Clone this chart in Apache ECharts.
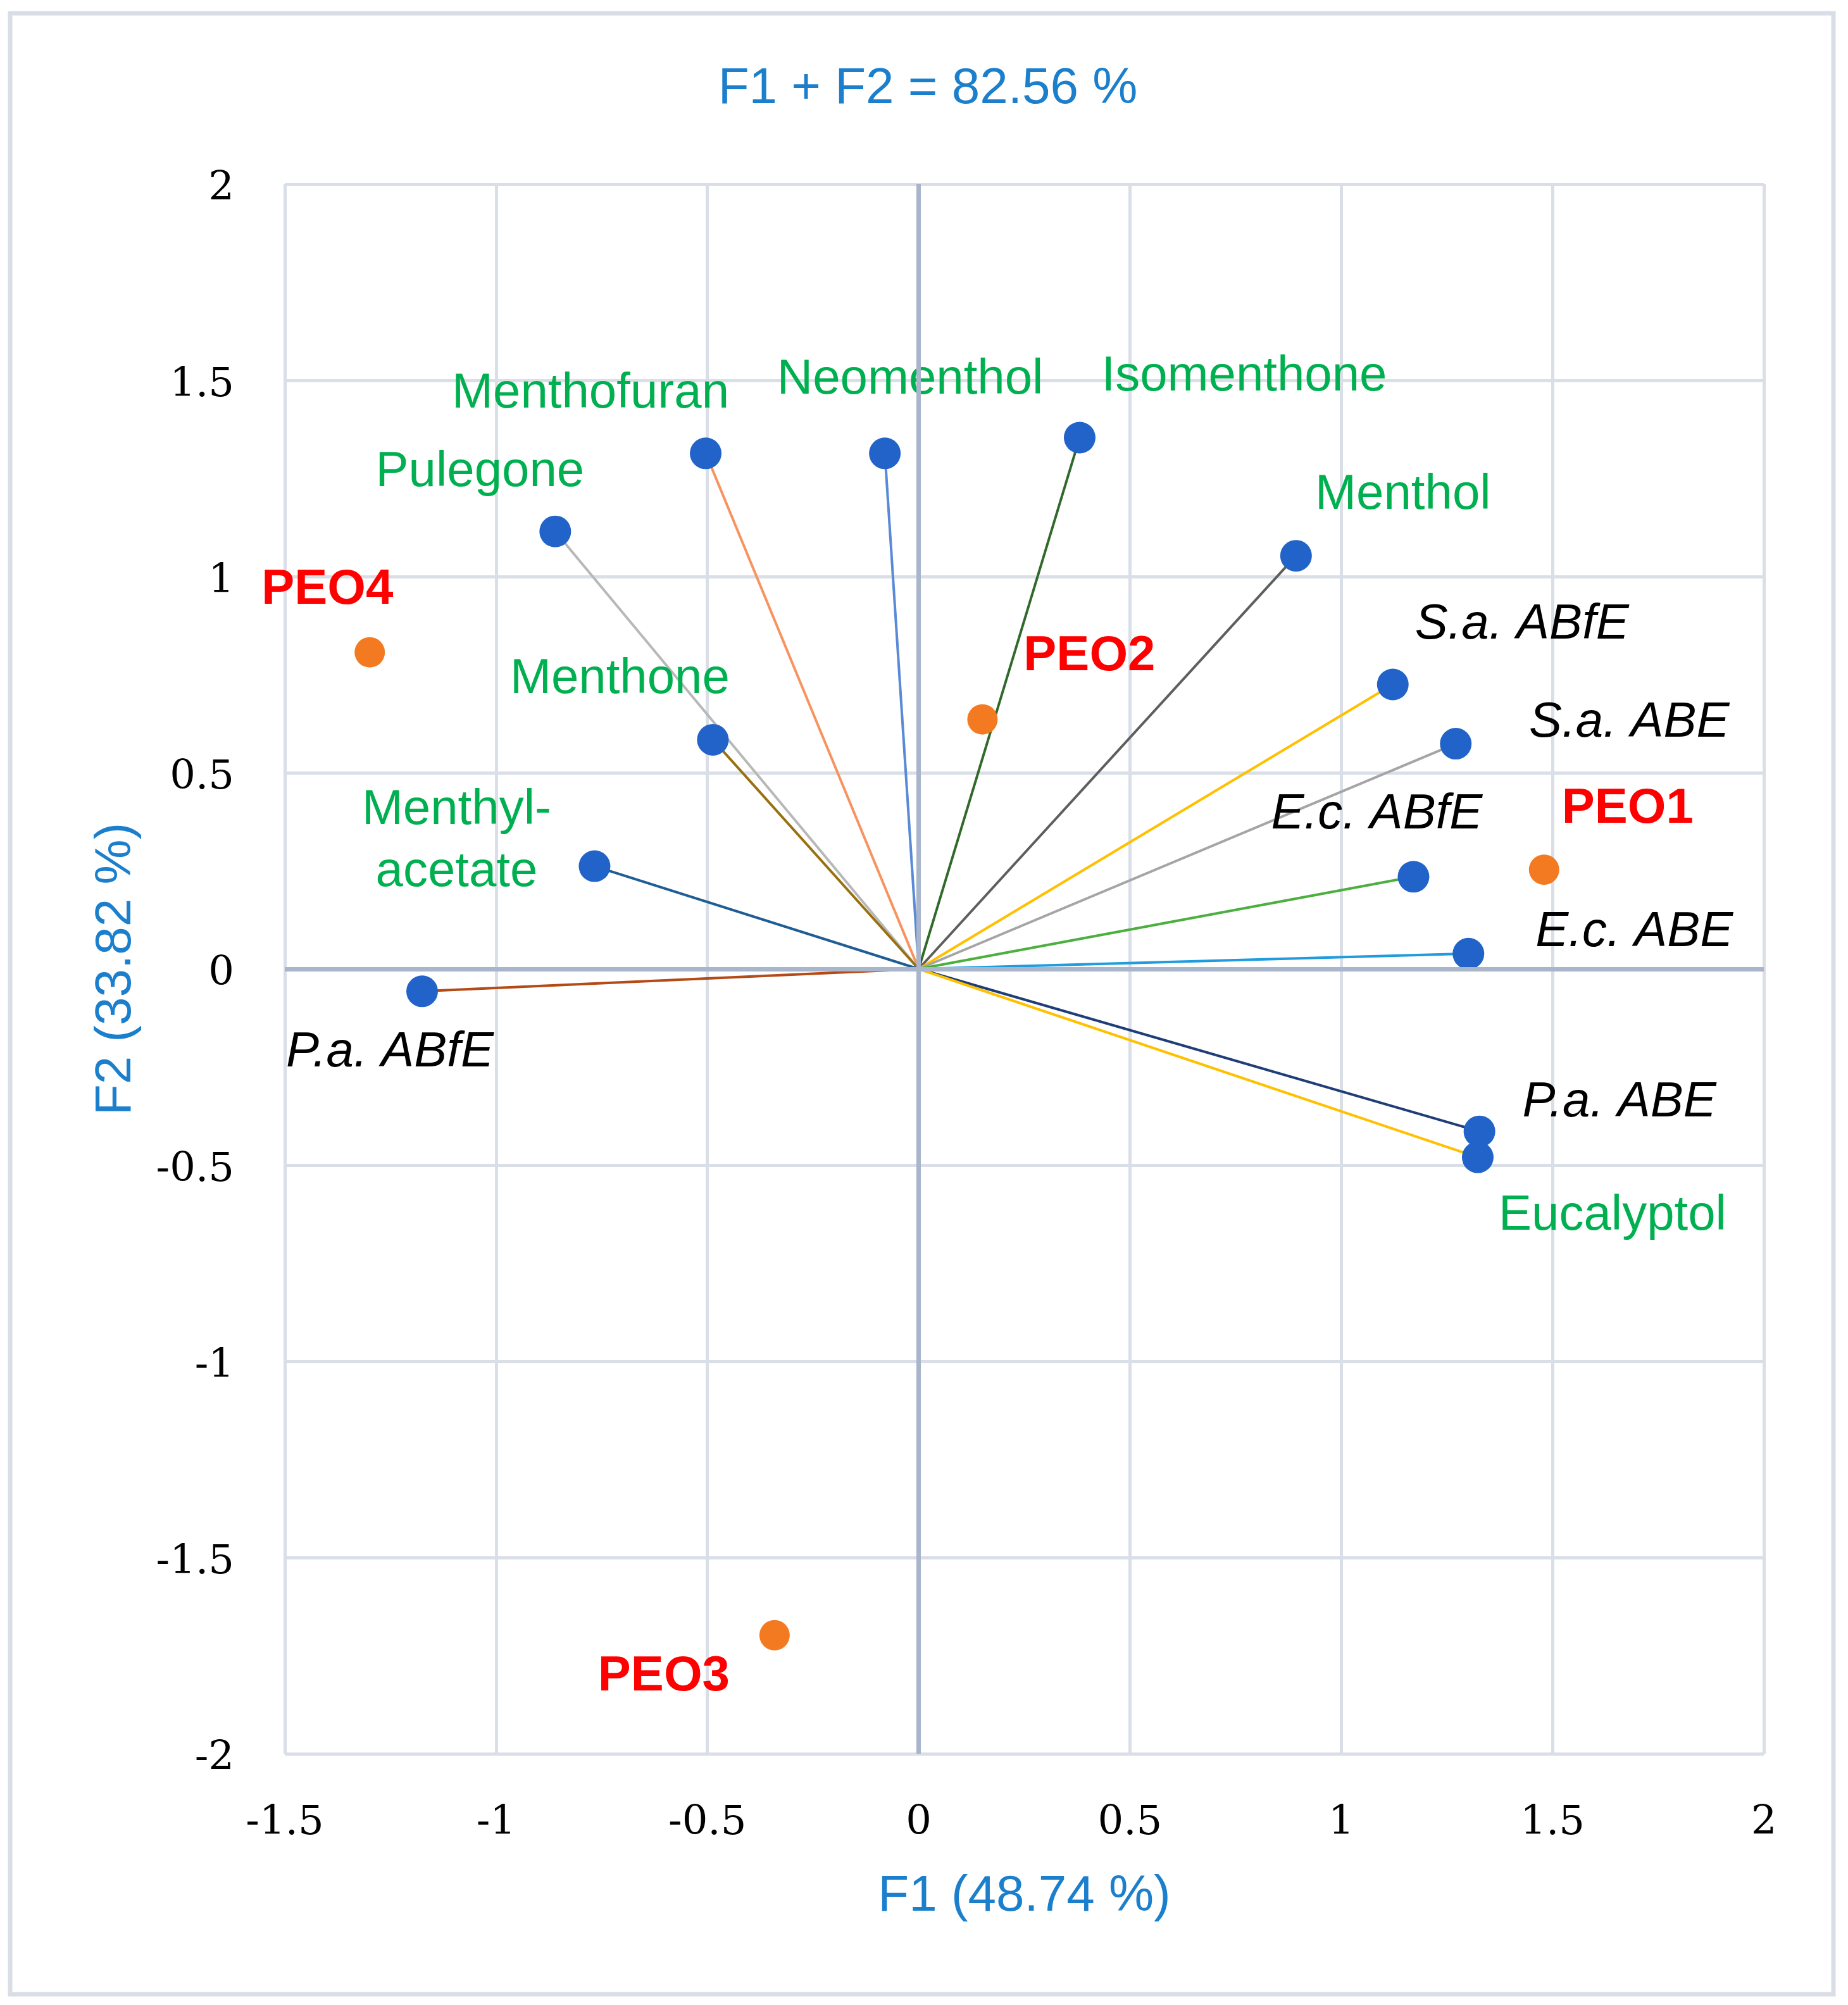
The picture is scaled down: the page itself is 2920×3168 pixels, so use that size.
<!DOCTYPE html>
<html><head><meta charset="utf-8">
<script src="https://cdn.jsdelivr.net/npm/echarts@6/dist/echarts.min.js"></script>
<style>html,body{margin:0;padding:0;background:#fff}#c{width:2920px;height:3168px}</style>
</head><body><div id="c"></div>
<script>
// ---- data ----
const titleText = 'F1 + F2 = 82.56 %';
const xAxisName = 'F1 (48.74 %)';
const yAxisName = 'F2 (33.82 %)';
const xRange = [-1.5, 2];
const yRange = [-2, 2];
const tickStep = 0.5;

const varNames = ['Menthofuran','Neomenthol','Isomenthone','Pulegone','Menthol','Menthone','Menthyl-\nacetate','P.a. ABfE','S.a. ABfE','S.a. ABE','E.c. ABfE','E.c. ABE','P.a. ABE','Eucalyptol'];
const varF1 = [-0.504,-0.080,0.381,-0.860,0.893,-0.487,-0.767,-1.175,1.122,1.271,1.171,1.301,1.327,1.323];
const varF2 = [1.314,1.314,1.354,1.115,1.053,0.584,0.262,-0.057,0.725,0.574,0.235,0.039,-0.414,-0.480];
const varIsBacteria = [false,false,false,false,false,false,false,true,true,true,true,true,true,false];

const obsNames = ['PEO1','PEO2','PEO3','PEO4'];
const obsF1 = [1.480,0.151,-0.341,-1.299];
const obsF2 = [0.253,0.636,-1.698,0.807];

// ---- styles ----
const lineColors = ['#F8935F','#5A8AD6','#31692B','#B8B8B8','#5E5E5E','#99700F','#1F5D94','#B44A16','#FFC000','#A5A5A5','#4CAF3F','#1F9BDE','#1F3E78','#FFC000'];
const varLabelOffsets = [[-182,-94],[40,-116],[260,-96],[-119,-93],[169,-96],[-147,-95],[-218,-39],[-51,97],[204,-94],[274,-33],[-58,-98],[262,-34],[221,-45],[213,93]];
const obsLabelOffsets = [[132,-96],[169,-99],[-175,66],[-67,-98]];
const sansFont = '"Liberation Sans", Arial, sans-serif';
const serifFont = '"DejaVu Serif", serif';

const series = [];
// zero axis lines
series.push({
  type: 'line', data: [], z: 1, silent: true,
  markLine: {
    silent: true, symbol: 'none', animation: false,
    label: {show: false},
    lineStyle: {color: '#A8B5CB', width: 7, type: 'solid'},
    data: [{xAxis: 0}, {yAxis: 0}]
  }
});
varNames.forEach((n, i) => {
  series.push({
    type: 'line', name: n, z: 3,
    lineStyle: {color: lineColors[i], width: 4},
    itemStyle: {color: '#2263C9', opacity: 1},
    symbol: 'circle', symbolSize: 50,
    showAllSymbol: true,
    animation: false,
    data: [
      {value: [0, 0], symbol: 'none'},
      {value: [varF1[i], varF2[i]],
       label: {
         show: true, position: 'inside', formatter: n,
         offset: varLabelOffsets[i],
         color: varIsBacteria[i] ? '#000000' : '#00B050',
         fontStyle: varIsBacteria[i] ? 'italic' : 'normal',
         fontFamily: sansFont, fontSize: 78, lineHeight: 98,
         align: 'center', verticalAlign: 'middle'
       }}
    ]
  });
});
series.push({
  type: 'scatter', name: 'obs', z: 4, animation: false,
  symbol: 'circle', symbolSize: 48,
  itemStyle: {color: '#F47A22', opacity: 1},
  data: obsNames.map((n, i) => ({
    value: [obsF1[i], obsF2[i]],
    label: {
      show: true, position: 'inside', formatter: n,
      offset: obsLabelOffsets[i],
      color: '#FF0000', fontWeight: 'bold',
      fontFamily: sansFont, fontSize: 78,
      align: 'center', verticalAlign: 'middle'
    }
  }))
});

const chart = echarts.init(document.getElementById('c'), null, {renderer: 'canvas'});
chart.setOption({
  backgroundColor: '#ffffff',
  animation: false,
  title: {
    text: titleText, left: 1461, top: 96, textAlign: 'center',
    textStyle: {color: '#1B7FCC', fontSize: 80, fontWeight: 'normal', fontFamily: sansFont}
  },
  graphic: [{
    type: 'rect', silent: true,
    shape: {x: 16, y: 21, width: 2881, height: 3130},
    style: {fill: 'none', stroke: '#D9DEE6', lineWidth: 7}
  }],
  grid: {left: 450, right: 133, top: 291, bottom: 397},
  xAxis: {
    type: 'value', min: xRange[0], max: xRange[1], interval: tickStep,
    name: xAxisName, nameLocation: 'middle', nameGap: 186,
    nameTextStyle: {color: '#1B7FCC', fontSize: 80, fontFamily: sansFont},
    axisLine: {show: false}, axisTick: {show: false},
    axisLabel: {color: '#000', fontSize: 64, fontFamily: serifFont, margin: 78},
    splitLine: {show: true, lineStyle: {color: '#D9DEE7', width: 5}}
  },
  yAxis: {
    type: 'value', min: yRange[0], max: yRange[1], interval: tickStep,
    name: yAxisName, nameLocation: 'middle', nameGap: 226, nameRotate: 90,
    nameTextStyle: {color: '#1B7FCC', fontSize: 80, fontFamily: sansFont},
    axisLine: {show: false}, axisTick: {show: false},
    axisLabel: {
      margin: 80,
      formatter: v => '{t|' + v + '}',
      rich: {t: {color: '#000', fontSize: 64, fontFamily: serifFont, padding: [16, 0, 0, 0]}}
    },
    splitLine: {show: true, lineStyle: {color: '#D9DEE7', width: 5}}
  },
  series: series
});
</script>
</body></html>
